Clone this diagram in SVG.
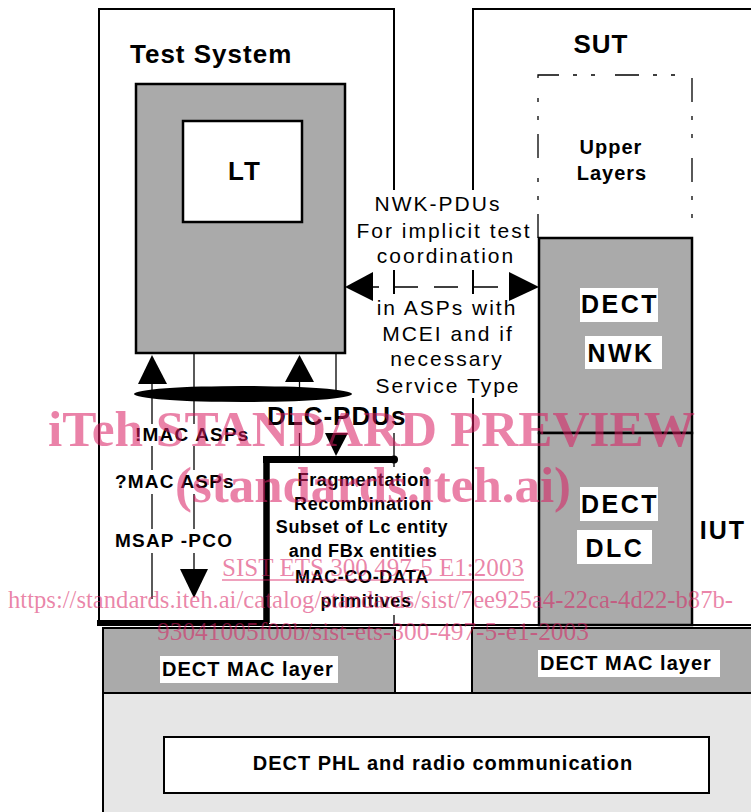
<svg xmlns="http://www.w3.org/2000/svg" width="751" height="812" viewBox="0 0 751 812">
<defs>
<style>
.t{font-family:"Liberation Sans",Arial,Helvetica,sans-serif;fill:#000}
.b{font-weight:bold}
.ln{stroke:#000;stroke-width:1.3;fill:none}
.bd{stroke:#000;stroke-width:2;fill:none}
.gray{fill:#aaaaaa;stroke:#000;stroke-width:2.5}
.wbox{fill:#fff}
.ah{fill:#000;stroke:none}
.wm{font-family:"Liberation Serif","Times New Roman",serif;fill:#d81b60;fill-opacity:0.55}
</style>
</defs>
<rect width="751" height="812" fill="#fff"/>

<g id="test-system">
<path class="bd" d="M99,625 V9 H394 V190"/>
<text class="t b" x="130" y="63" font-size="26" letter-spacing="1">Test System</text>
</g>

<g id="sut">
<path class="bd" d="M473,190 V9 H751"/>
<path class="bd" d="M473,398 V625"/>
<text class="t b" x="601" y="53" font-size="26" letter-spacing="1" text-anchor="middle">SUT</text>
<text class="t b" x="723" y="539" font-size="25" letter-spacing="2" text-anchor="middle">IUT</text>
</g>

<g id="lt">
<rect class="gray" x="136" y="84" width="209" height="269"/>
<rect x="183" y="121" width="119" height="101" fill="#fff" stroke="#000" stroke-width="2.5"/>
<text class="t b" x="245" y="180" font-size="26" letter-spacing="2" text-anchor="middle">LT</text>
</g>

<g id="upper-layers">
<path d="M538,238 V75 H692 V238" fill="none" stroke="#000" stroke-width="1.3" stroke-dasharray="24 14 4 14 4 20"/>
<text class="t b" x="611" y="154" font-size="20" letter-spacing="1" text-anchor="middle">Upper</text>
<text class="t b" x="612" y="180" font-size="20" letter-spacing="1" text-anchor="middle">Layers</text>
</g>

<g id="dect-nwk">
<rect class="gray" x="539" y="238" width="153" height="195"/>
<rect class="wbox" x="580" y="288" width="78" height="34"/>
<text class="t b" x="620" y="313" font-size="25" letter-spacing="2.5" text-anchor="middle">DECT</text>
<rect class="wbox" x="585" y="336" width="77" height="33"/>
<text class="t b" x="621" y="362" font-size="25" letter-spacing="2.5" text-anchor="middle">NWK</text>
</g>

<g id="dect-dlc">
<rect class="gray" x="539" y="433" width="153" height="192"/>
<rect class="wbox" x="580" y="487" width="78" height="34"/>
<text class="t b" x="620" y="513" font-size="25" letter-spacing="2.5" text-anchor="middle">DECT</text>
<rect class="wbox" x="577" y="530" width="75" height="34"/>
<text class="t b" x="615" y="557" font-size="25" letter-spacing="2.5" text-anchor="middle">DLC</text>
</g>

<g id="mac-left">
<rect x="103" y="628" width="292" height="65" fill="#aaaaaa" stroke="#000" stroke-width="2"/>
<rect class="wbox" x="160" y="656" width="178" height="27"/>
<text class="t b" x="162" y="676" font-size="20" letter-spacing="1">DECT MAC layer</text>
</g>

<g id="mac-right">
<rect x="472" y="628" width="290" height="65" fill="#aaaaaa" stroke="#000" stroke-width="2"/>
<rect class="wbox" x="538" y="650" width="182" height="27"/>
<text class="t b" x="540" y="670" font-size="20" letter-spacing="1">DECT MAC layer</text>
</g>

<g id="phl">
<rect x="103" y="693" width="660" height="130" fill="#e6e6e6" stroke="#000" stroke-width="2"/>
<rect x="164" y="737" width="545" height="56" fill="#fff" stroke="#000" stroke-width="2"/>
<text class="t b" x="443" y="770" font-size="20" letter-spacing="1" text-anchor="middle">DECT PHL and radio communication</text>
</g>

<g id="dlc-entity">
<path d="M263,459.5 H394" stroke="#000" stroke-width="7" fill="none"/>
<circle cx="394" cy="459.5" r="4" fill="#000"/>
<path d="M266.5,459 V623" stroke="#000" stroke-width="6.5" fill="none"/>
<path d="M97,623 H269" stroke="#000" stroke-width="6" fill="none"/>
<path class="bd" d="M269,625 H751"/>
<g class="t b" font-size="18" letter-spacing="0.6" text-anchor="middle">
<text x="364" y="486">Fragmentation</text>
<text x="363" y="510">Recombination</text>
<text x="362" y="533">Subset of Lc entity</text>
<text x="363" y="557">and FBx entities</text>
<text x="362" y="583">MAC-CO-DATA</text>
<text x="366" y="607">primitives</text>
</g>
</g>

<g id="connectors">
<!-- NWK-PDU dashed double arrow -->
<polygon class="ah" points="345,287 373,272 373,301"/>
<polygon class="ah" points="539,287 509,272 509,301"/>
<path class="ln" d="M373,287 H379 M394,287 H418 M434,287 H458 M473,287 H498"/>
<path class="bd" d="M394,270 V294 M473,270 V294"/>
<!-- MSAP lines -->
<polygon class="ah" points="152,355 138,384 167,384"/>
<path class="ln" d="M152,384 V599"/>
<path class="ln" d="M194,353 V570"/>
<polygon class="ah" points="194,598 180,569 208,569"/>
<polygon class="ah" points="299.5,355 285,382 314,382"/>
<path class="ln" d="M299.5,382 V390"/>
<path class="ln" d="M336,353 V390"/>
<ellipse cx="243" cy="394" rx="109" ry="8" fill="#000"/>
<path class="ln" d="M299.5,433 V457"/>
<path class="ln" d="M336,433 V445"/>
<polygon class="ah" points="336,456 325,433 348,433"/>
<path class="ln" d="M394,433 V467 M394,615 V625"/>
<!-- labels -->
<g class="t" font-size="21" letter-spacing="2" text-anchor="middle">
<text x="438" y="211">NWK-PDUs</text>
<text x="444" y="238">For implicit test</text>
<text x="446" y="263">coordination</text>
<text x="447" y="315">in ASPs with</text>
<text x="448" y="341">MCEI and if</text>
<text x="447" y="366">necessary</text>
<text x="448" y="393">Service Type</text>
</g>
<g class="t b" font-size="19" letter-spacing="1.2">
<rect class="wbox" x="133" y="424" width="122" height="22"/>
<text x="135" y="441">!MAC ASPs</text>
<rect class="wbox" x="113" y="470" width="126" height="24"/>
<text x="115" y="488">?MAC ASPs</text>
<rect class="wbox" x="113" y="529" width="126" height="24"/>
<text x="115" y="547">MSAP -PCO</text>
</g>
<text class="t b" x="267" y="425" font-size="26" letter-spacing="1">DLC-PDUs</text>
</g>

<g id="watermark">
<text class="wm" x="48" y="446" font-size="50" font-weight="bold" textLength="647" lengthAdjust="spacingAndGlyphs">iTeh STANDARD PREVIEW</text>
<text class="wm" x="175" y="502" font-size="50" font-weight="bold" textLength="396" lengthAdjust="spacingAndGlyphs">(standards.iteh.ai)</text>
<text class="wm" x="222" y="576" font-size="25" textLength="302" lengthAdjust="spacingAndGlyphs">SIST ETS 300 497-5 E1:2003</text>
<path d="M222,580 H524" stroke="#d81b60" stroke-opacity="0.55" stroke-width="1.5"/>
<text class="wm" x="8" y="608" font-size="25" textLength="725" lengthAdjust="spacingAndGlyphs">https://standards.iteh.ai/catalog/standards/sist/7ee925a4-22ca-4d22-b87b-</text>
<text class="wm" x="157" y="640" font-size="25" textLength="432" lengthAdjust="spacingAndGlyphs">93041005f00b/sist-ets-300-497-5-e1-2003</text>
</g>
</svg>
